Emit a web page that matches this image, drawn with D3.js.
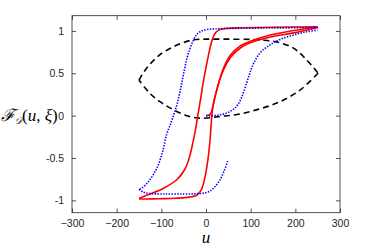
<!DOCTYPE html>
<html><head><meta charset="utf-8">
<script src="https://cdn.jsdelivr.net/npm/d3@7"></script>
<style>body{margin:0;background:#fff}svg{display:block}</style>
</head><body>
<script>
// ---- data ----
const xTicks = [-300, -200, -100, 0, 100, 200, 300];
const yTicks = [-1, -0.5, 0, 0.5, 1];
const yTickLabels = ["-1", "-0.5", "0", "0.5", "1"];

// red solid: virgin, descending, ascending
const redVirgin = [[0,0],[6,0.005],[11,0.03],[15,0.1],[19,0.2],[24,0.3],[31,0.43],[41,0.56],[56,0.695],[80,0.81],[110,0.88],[150,0.935],[200,0.98],[250,1.04]];
const redDesc = [[250,1.05],[150,1.043],[80,1.037],[45,1.03],[28,1.01],[18,0.95],[12,0.86],[5,0.7],[-1,0.54],[-6,0.4],[-12,0.2],[-19,-0.02],[-24,-0.18],[-29,-0.31],[-36,-0.47],[-47,-0.63],[-66,-0.76],[-96,-0.86],[-125,-0.925],[-150,-0.975]];
const redAsc = [[-150,-0.985],[-120,-0.983],[-96,-0.98],[-70,-0.975],[-43,-0.965],[-21,-0.94],[-10,-0.87],[-2,-0.72],[4,-0.53],[8,-0.35],[11,-0.15],[13,0.0],[16,0.12],[20,0.22],[25,0.32],[32,0.45],[40,0.57],[54,0.71],[76,0.82],[106,0.89],[136,0.94],[181,0.99],[250,1.05]];

// blue dotted: virgin, descending, ascending
const blueVirgin = [[0,0],[16,0.0],[30,0.01],[46,0.03],[60,0.07],[70,0.12],[80,0.22],[90,0.37],[98,0.5],[107,0.62],[121,0.74],[143,0.835],[166,0.9],[195,0.95],[225,0.99],[250,1.01]];
const blueDesc = [[250,1.04],[150,1.035],[60,1.03],[20,1.025],[0,1.015],[-13,0.99],[-22,0.95],[-29,0.88],[-36,0.79],[-43,0.67],[-48,0.55],[-53,0.42],[-58,0.29],[-64,0.15],[-71,0.03],[-78,-0.08],[-88,-0.22],[-97,-0.42],[-110,-0.62],[-129,-0.78],[-145,-0.86],[-150,-0.87]];
const blueAsc = [[-150,-0.87],[-140,-0.905],[-125,-0.92],[-96,-0.925],[-50,-0.925],[-21,-0.922],[0,-0.91],[9,-0.89],[20,-0.84],[31,-0.76],[40,-0.66],[50,-0.52]];

// black dashed closed curve (top arc and bottom arc)
const blackTop = [[-150,0.42],[-133,0.56],[-103,0.72],[-66,0.83],[-29,0.895],[0,0.903],[50,0.903],[100,0.9],[125,0.893],[158,0.87],[195,0.8],[225,0.66],[251,0.5]];
const blackBottom = [[251,0.5],[210,0.3],[166,0.165],[121,0.08],[76,0.02],[31,-0.01],[-13,-0.03],[-43,0.0],[-73,0.07],[-103,0.165],[-125,0.26],[-150,0.42]];

// ---- layout ----
const W = 374, H = 246;
const L = 72, R = 340, T = 15.7, B = 212.7;
const svg = d3.select("body").append("svg").attr("width", W).attr("height", H);
const x = d3.scaleLinear().domain([-300, 300]).range([L, R]);
const y = d3.scaleLinear().domain([-1.146, 1.18]).range([B, T]);

const axisColor = "#262626";
const tickLen = 4;
const fnt = "'Liberation Sans', Arial, sans-serif";

// axes via d3 axis generators (inward ticks)
const gB = svg.append("g").attr("transform", `translate(0,${B})`)
  .call(d3.axisBottom(x).tickValues(xTicks).tickSizeInner(-tickLen).tickSizeOuter(0).tickPadding(6.5).tickFormat(d3.format("d")));
const gT = svg.append("g").attr("transform", `translate(0,${T})`)
  .call(d3.axisTop(x).tickValues(xTicks).tickSizeInner(-tickLen).tickSizeOuter(0).tickFormat(""));
const gL = svg.append("g").attr("transform", `translate(${L},0)`)
  .call(d3.axisLeft(y).tickValues(yTicks).tickSizeInner(-tickLen).tickSizeOuter(0).tickPadding(8).tickFormat((d,i)=>yTickLabels[i]));
const gR = svg.append("g").attr("transform", `translate(${R},0)`)
  .call(d3.axisRight(y).tickValues(yTicks).tickSizeInner(-tickLen).tickSizeOuter(0).tickFormat(""));
[gB, gT, gL, gR].forEach(g => {
  g.select(".domain").remove();
  g.selectAll("line").attr("stroke", axisColor).attr("stroke-width", 0.8);
  g.selectAll("text").attr("fill", axisColor).style("font-family", fnt).style("font-size", "10.5px");
});
svg.append("rect").attr("x", L).attr("y", T).attr("width", R - L).attr("height", B - T)
  .attr("fill", "none").attr("stroke", axisColor).attr("stroke-width", 0.8);

// curves
const clip = svg.append("clipPath").attr("id", "c").append("rect")
  .attr("x", L).attr("y", T).attr("width", R - L).attr("height", B - T);
const line = d3.line().x(d => x(d[0])).y(d => y(d[1])).curve(d3.curveCatmullRom.alpha(0.5));
const plot = svg.append("g").attr("clip-path", "url(#c)");

[blackTop, blackBottom].forEach(d => plot.append("path").attr("d", line(d))
  .attr("fill", "none").attr("stroke", "#000").attr("stroke-width", 1.6).attr("stroke-dasharray", "6,4"));
[redVirgin, redDesc, redAsc].forEach(d => plot.append("path").attr("d", line(d))
  .attr("fill", "none").attr("stroke", "#ff0000").attr("stroke-width", 1.6));
[blueVirgin, blueDesc, blueAsc].forEach(d => plot.append("path").attr("d", line(d))
  .attr("fill", "none").attr("stroke", "#0000ff").attr("stroke-width", 1.6).attr("stroke-dasharray", "1.4,1.4"));

// labels
svg.append("text").attr("x", 206).attr("y", 242.5).attr("text-anchor", "middle")
  .style("font-family", "'Liberation Serif', 'DejaVu Serif', serif").style("font-style", "italic").style("font-size", "17px")
  .attr("fill", "#000").text("u");

const yl = svg.append("text").attr("x", 1).attr("y", 121)
  .style("font-family", "'Liberation Serif', 'DejaVu Serif', serif").style("font-size", "17px").attr("fill", "#000");
yl.append("tspan").style("font-style", "italic").text("ℱ");
yl.append("tspan").attr("dy", 3).style("font-size", "9px").style("font-style", "italic").text("𝒟");
yl.append("tspan").attr("dy", -3).text("(");
yl.append("tspan").style("font-style", "italic").text("u");
yl.append("tspan").text(", ");
yl.append("tspan").style("font-style", "italic").text("ξ");
yl.append("tspan").text(")");
</script>
</body></html>
